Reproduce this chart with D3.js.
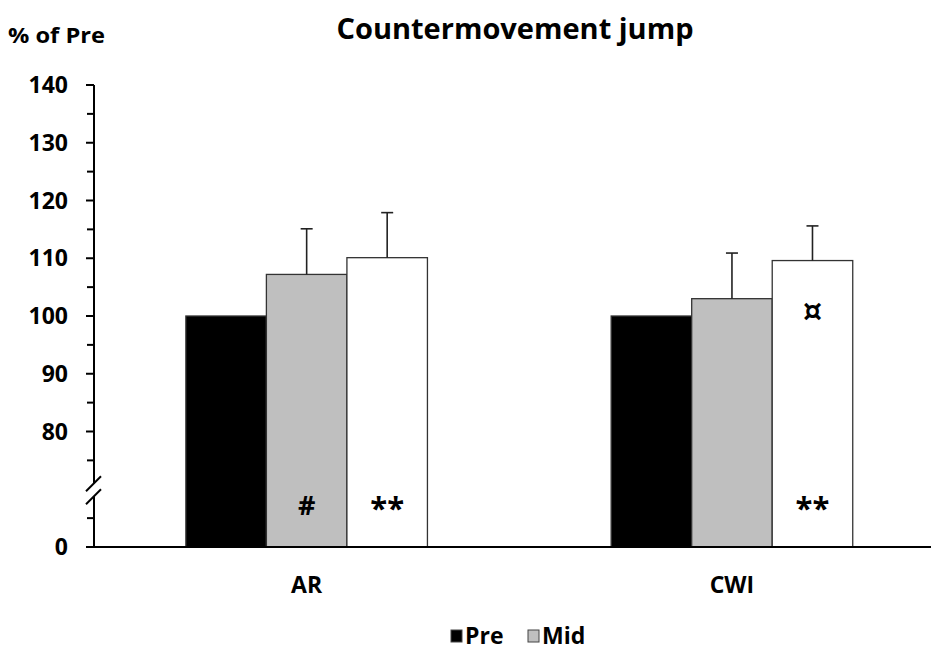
<!DOCTYPE html>
<html>
<head>
<meta charset="utf-8">
<script src="https://cdn.jsdelivr.net/npm/d3@7"></script>
<style>
  body { margin: 0; background: #fff; }
  text { font-family: "Open Sans", sans-serif; font-weight: bold; fill: #000; }
</style>
</head>
<body>
<div id="chart"></div>
<script>
// Data
const groups = ["AR", "CWI"];
const series = ["Pre", "Mid", "Post"];
const preValues = [100, 100];
const midValues = [107.2, 103.0];
const postValues = [110.1, 109.6];
const midErrors = [7.9, 7.9];
const postErrors = [7.8, 6.0];
const majorTicks = [80, 90, 100, 110, 120, 130, 140];
const minorTicks = [65, 75, 85, 95, 105, 115, 125, 135];
const baseTick = 60;          // drawn where the axis is cut, labelled "0"
const baseLabel = "0";
const legendItems = ["Pre", "Mid"];
// significance marks: group, series, symbol, where in the bar
const marks = [
    { group: "AR", series: "Mid", text: "#", at: "base" },
    { group: "AR", series: "Post", text: "**", at: "base" },
    { group: "CWI", series: "Post", text: "**", at: "base" },
    { group: "CWI", series: "Post", text: "¤", at: "top" }
];

const width = 931, height = 650;
const margin = { top: 85, right: 0, bottom: 103, left: 94 };

const rows = [];
groups.forEach((g, i) => {
    rows.push({ group: g, series: "Pre", value: preValues[i], err: 0 });
    rows.push({ group: g, series: "Mid", value: midValues[i], err: midErrors[i] });
    rows.push({ group: g, series: "Post", value: postValues[i], err: postErrors[i] });
});

const colors = { Pre: "#000000", Mid: "#bfbfbf", Post: "#ffffff" };

const svg = d3.select("#chart")
    .append("svg")
    .attr("width", width)
    .attr("height", height);

// Scales
const x0 = d3.scaleBand()
    .domain(groups)
    .range([margin.left, width - margin.right])
    .paddingInner(0.432)
    .paddingOuter(0.2)
    .align(0.54);

const x1 = d3.scaleBand()
    .domain(series)
    .range([0, x0.bandwidth()]);

const y = d3.scaleLinear()
    .domain([60, 140])
    .range([height - margin.bottom, margin.top]);

// Bars
const bars = svg.append("g");
bars.selectAll("rect")
    .data(rows)
    .join("rect")
    .attr("x", d => x0(d.group) + x1(d.series))
    .attr("y", d => y(d.value))
    .attr("width", x1.bandwidth())
    .attr("height", d => y(baseTick) - y(d.value))
    .attr("fill", d => colors[d.series])
    .attr("stroke", "#333")
    .attr("stroke-width", 1.3);

// Error bars (upper only)
const errs = svg.append("g")
    .attr("stroke", "#222")
    .attr("stroke-width", 1.6);
rows.filter(d => d.err > 0).forEach(d => {
    const cx = x0(d.group) + x1(d.series) + x1.bandwidth() / 2;
    errs.append("line")
        .attr("x1", cx).attr("x2", cx)
        .attr("y1", y(d.value)).attr("y2", y(d.value + d.err));
    errs.append("line")
        .attr("x1", cx - 6).attr("x2", cx + 6)
        .attr("y1", y(d.value + d.err)).attr("y2", y(d.value + d.err));
});

// Significance marks
marks.forEach(m => {
    const d = rows.find(r => r.group === m.group && r.series === m.series);
    const cx = x0(m.group) + x1(m.series) + x1.bandwidth() / 2;
    const t = svg.append("text")
        .attr("x", cx)
        .attr("text-anchor", "middle")
        .text(m.text);
    if (m.at === "top") {
        t.attr("y", y(d.value) + 50)
            .attr("dy", "0.35em")
            .style("font-family", "'DejaVu Sans', sans-serif")
            .style("font-size", "30px");
    } else if (m.text === "#") {
        t.attr("y", y(baseTick) - 42)
            .attr("dy", "0.36em")
            .style("font-size", "27px");
    } else {
        t.attr("y", y(baseTick) - 42)
            .attr("dy", "0.45em")
            .style("font-size", "31px");
    }
});

// Y axis (hand-built because of the cut)
const axisX = margin.left;
const breakY1 = (y(75) + y(65)) / 2 - 6;
const breakY2 = breakY1 + 13;
const yAxis = svg.append("g").attr("stroke", "#000").attr("stroke-width", 2);
yAxis.append("line")
    .attr("x1", axisX).attr("x2", axisX)
    .attr("y1", y(140)).attr("y2", breakY1);
yAxis.append("line")
    .attr("x1", axisX).attr("x2", axisX)
    .attr("y1", breakY2).attr("y2", y(baseTick));
[breakY1, breakY2].forEach(by => {
    yAxis.append("line")
        .attr("x1", axisX - 8).attr("x2", axisX + 7)
        .attr("y1", by + 8).attr("y2", by - 7);
});

yAxis.selectAll(".major")
    .data(majorTicks.concat([baseTick]))
    .join("line")
    .attr("x1", axisX - 8).attr("x2", axisX)
    .attr("y1", d => y(d)).attr("y2", d => y(d));

yAxis.selectAll(".minor")
    .data(minorTicks)
    .join("line")
    .attr("class", "minor")
    .attr("x1", axisX - 7).attr("x2", axisX)
    .attr("y1", d => y(d)).attr("y2", d => y(d));

svg.append("g")
    .selectAll("text")
    .data(majorTicks.concat([baseTick]))
    .join("text")
    .attr("x", 68)
    .attr("y", d => y(d))
    .attr("dy", "0.35em")
    .attr("text-anchor", "end")
    .style("font-size", "23px")
    .text(d => d === baseTick ? baseLabel : d);

// X axis
svg.append("line")
    .attr("x1", axisX - 1).attr("x2", width)
    .attr("y1", y(baseTick)).attr("y2", y(baseTick))
    .attr("stroke", "#000")
    .attr("stroke-width", 2.2);

svg.append("g")
    .selectAll("text")
    .data(groups)
    .join("text")
    .attr("x", d => x0(d) + x0.bandwidth() / 2)
    .attr("y", 585)
    .attr("dy", "0.35em")
    .attr("text-anchor", "middle")
    .style("font-size", "23px")
    .text(d => d);

// Title and y label
svg.append("text")
    .attr("x", 515)
    .attr("y", 29)
    .attr("dy", "0.35em")
    .attr("text-anchor", "middle")
    .style("font-size", "29px")
    .text("Countermovement jump");

svg.append("text")
    .attr("x", 8)
    .attr("y", 35)
    .attr("dy", "0.35em")
    .style("font-size", "22px")
    .attr("textLength", 97)
    .attr("lengthAdjust", "spacingAndGlyphs")
    .text("% of Pre");

// Legend
const legend = svg.append("g").attr("transform", "translate(451, 636)");
const legendOffsets = [0, 77];
legendItems.forEach((s, i) => {
    const gI = legend.append("g").attr("transform", `translate(${legendOffsets[i]},0)`);
    gI.append("rect")
        .attr("x", 0).attr("y", -6)
        .attr("width", 11).attr("height", 12)
        .attr("fill", colors[s])
        .attr("stroke", "#444")
        .attr("stroke-width", 1);
    gI.append("text")
        .attr("x", 14)
        .attr("y", 0)
        .attr("dy", "0.35em")
        .style("font-size", "23px")
        .text(s);
});
</script>
</body>
</html>
